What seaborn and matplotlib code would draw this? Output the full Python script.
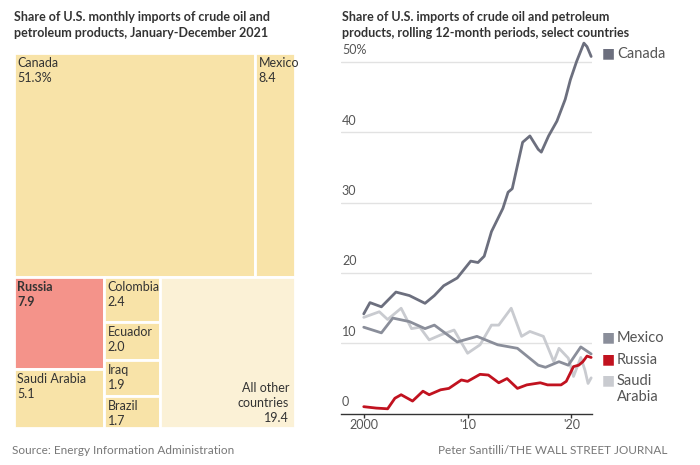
import matplotlib
matplotlib.use("Agg")
import matplotlib.pyplot as plt
import seaborn as sns
from matplotlib.patches import Rectangle

sns.set_theme(style="white")
plt.rcParams['font.family'] = ['Lato', 'DejaVu Sans']

# --- treemap data: share of 2021 imports ---
tm_countries = ['Canada', 'Mexico', 'Russia', 'Saudi Arabia', 'Colombia',
                'Ecuador', 'Iraq', 'Brazil', 'All other countries']
tm_shares = [51.3, 8.4, 7.9, 5.1, 2.4, 2.0, 1.9, 1.7, 19.4]
tm_labels = ['51.3%', '8.4', '7.9', '5.1', '2.4', '2.0', '1.9', '1.7', '19.4']
# grouping used by the layout: top row, then three columns below
tm_top_row = ['Canada', 'Mexico']
tm_bottom_cols = [['Russia', 'Saudi Arabia'],
                  ['Colombia', 'Ecuador', 'Iraq', 'Brazil'],
                  ['All other countries']]

# --- line chart data: rolling 12-month share, % ---
canada_years = [2000.0, 2000.6, 2001.7, 2003.1, 2004.4, 2005.9, 2006.8, 2007.7, 2009.0,
                2010.3, 2011.0, 2011.6, 2012.3, 2012.7, 2013.4, 2013.9, 2014.3, 2015.3,
                2016.0, 2016.8, 2017.1, 2017.8, 2018.6, 2019.4, 2019.9, 2020.5, 2021.2,
                2021.5, 2021.9]
canada_share = [14.2, 15.8, 15.2, 17.3, 16.8, 15.7, 16.8, 18.2, 19.3,
                21.7, 21.5, 22.4, 25.9, 27.1, 29.2, 31.5, 32.0, 38.6,
                39.5, 37.6, 37.2, 39.5, 41.6, 44.7, 47.5, 50.1, 52.7,
                52.2, 50.8]

mexico_years = [2000.0, 2001.7, 2002.8, 2004.4, 2005.9, 2006.8, 2009.0, 2010.9, 2012.9,
                2014.8, 2016.8, 2017.5, 2018.8, 2019.7, 2020.9, 2021.9]
mexico_share = [12.3, 11.5, 13.6, 13.1, 12.1, 12.6, 10.2, 11.0, 9.8,
                9.3, 6.9, 6.6, 7.4, 6.9, 9.5, 8.5]

russia_years = [2000.0, 2001.2, 2002.3, 2003.0, 2003.6, 2004.7, 2005.7, 2006.3, 2007.4,
                2008.2, 2009.4, 2010.0, 2011.2, 2012.0, 2013.0, 2013.8, 2014.8, 2015.7,
                2017.0, 2017.7, 2019.0, 2019.5, 2020.2, 2020.7, 2021.1, 2021.5, 2021.9]
russia_share = [1.0, 0.8, 0.7, 2.2, 2.7, 1.8, 3.2, 2.7, 3.4,
                3.6, 4.8, 4.6, 5.6, 5.5, 4.4, 5.0, 3.6, 4.1,
                4.4, 4.1, 4.1, 4.6, 6.7, 6.9, 7.4, 8.2, 8.0]

saudi_years = [2000.0, 2001.5, 2002.3, 2003.6, 2004.6, 2005.4, 2006.3, 2007.4, 2008.7,
               2010.0, 2011.2, 2012.3, 2013.0, 2014.2, 2015.2, 2016.0, 2017.3, 2018.3,
               2018.8, 2019.7, 2020.2, 2020.9, 2021.3, 2021.6, 2021.9]
saudi_share = [13.7, 14.5, 13.4, 15.0, 12.1, 12.3, 10.5, 11.2, 11.9,
               8.6, 9.8, 12.6, 12.6, 15.0, 11.0, 11.7, 11.0, 7.4,
               9.3, 7.9, 5.3, 8.0, 6.2, 4.3, 5.1]

y_ticks = [0, 10, 20, 30, 40, 50]
y_tick_labels = ['0', '10', '20', '30', '40', '50%']
x_ticks = [2000, 2010, 2020]
x_tick_labels = ['2000', "'10", "'20"]

tm_colors = {'Russia': '#f4938a', 'All other countries': '#fbf1d6'}
tm_default = '#f8e3a8'
text_dark = '#333333'

fig = plt.figure(figsize=(7, 4.65), dpi=100)

# ---------------- treemap ----------------
ax1 = fig.add_axes([0.02, 0.0796, 0.401, 0.806])
ax1.set_xlim(0, 1)
ax1.set_ylim(1, 0)
ax1.axis('off')
share = dict(zip(tm_countries, tm_shares))
label = dict(zip(tm_countries, tm_labels))
total = sum(tm_shares)


def draw_cell(name, x0, y0, w, h):
    ax1.add_patch(Rectangle((x0, y0), w, h, facecolor=tm_colors.get(name, tm_default),
                            edgecolor='white', linewidth=2))
    bold = 'bold' if name == 'Russia' else 'normal'
    if name == 'All other countries':
        ax1.annotate('All other\ncountries\n' + label[name], xy=(x0 + w, y0 + h),
                     xytext=(-4, 3), textcoords='offset points', ha='right', va='bottom',
                     fontsize=9, color=text_dark, linespacing=1.3)
    else:
        ax1.annotate(name + '\n' + label[name], xy=(x0, y0), xytext=(2.5, -3),
                     textcoords='offset points', ha='left', va='top', fontsize=9,
                     color=text_dark, fontweight=bold, linespacing=1.3)


top_sum = sum(share[c] for c in tm_top_row)
top_h = top_sum / total
x = 0
for c in tm_top_row:
    w = share[c] / top_sum
    draw_cell(c, x, 0, w, top_h)
    x += w
bottom_sum = total - top_sum
x = 0
for col in tm_bottom_cols:
    col_sum = sum(share[c] for c in col)
    w = col_sum / bottom_sum
    y = top_h
    for c in col:
        h = (1 - top_h) * share[c] / col_sum
        draw_cell(c, x, y, w, h)
        y += h
    x += w

fig.text(0.02, 0.977, 'Share of U.S. monthly imports of crude oil and\npetroleum products, January-December 2021',
         ha='left', va='top', fontsize=9, fontweight='bold', color=text_dark, linespacing=1.45)

# ---------------- line chart ----------------
ax2 = fig.add_axes([0.487, 0.1103, 0.359, 0.8166])
ax2.set_xlim(1997.8, 2022.0)
ax2.set_ylim(0, 54)
sns.lineplot(x=saudi_years, y=saudi_share, color='#c9cbd0', linewidth=2, ax=ax2)
sns.lineplot(x=mexico_years, y=mexico_share, color='#8a8e9a', linewidth=2, ax=ax2)
sns.lineplot(x=russia_years, y=russia_share, color='#c1121f', linewidth=2, ax=ax2)
sns.lineplot(x=canada_years, y=canada_share, color='#6c6f7e', linewidth=2, ax=ax2)
for line in ax2.lines:
    line.set_clip_on(False)

for yt, lab in zip(y_ticks, y_tick_labels):
    if yt > 0:
        ax2.axhline(yt, color='#e2e2e2', linewidth=1, zorder=0)
    ax2.text(1997.9, yt + 0.8, lab, ha='left', va='bottom', fontsize=9, color='#555555')
for s in ['top', 'right', 'left']:
    ax2.spines[s].set_visible(False)
ax2.spines['bottom'].set_color('#333333')
ax2.spines['bottom'].set_linewidth(1)
ax2.set_yticks([])
ax2.set_xticks(x_ticks)
ax2.set_xticklabels(x_tick_labels, fontsize=9, color='#555555')
ax2.tick_params(axis='x', length=3, width=1, color='#333333', pad=1, bottom=True)
ax2.set_xlabel('')
ax2.set_ylabel('')

fig.text(0.488, 0.977, 'Share of U.S. imports of crude oil and petroleum\nproducts, rolling 12-month periods, select countries',
         ha='left', va='top', fontsize=9, fontweight='bold', color=text_dark, linespacing=1.45)

# legend labels at the right of the lines
legend_items = [('Canada', '#6c6f7e', 53), ('Mexico', '#8a8e9a', 337),
                ('Russia', '#c1121f', 359), ('Saudi\nArabia', '#c9cbd0', 380)]
for name, col, ypix in legend_items:
    fy = 1 - ypix / 465
    fig.text(602 / 700, fy, '■', ha='left', va='center', fontsize=10, color=col,
             family='DejaVu Sans')
    fig.text(617 / 700, fy + 0.012, name, ha='left', va='top', fontsize=10.5,
             color='#555555', linespacing=1.15)

fig.text(0.017, 0.032, 'Source: Energy Information Administration', ha='left', va='center',
         fontsize=8.5, color='#777777')
fig.text(0.953, 0.032, 'Peter Santilli/THE WALL STREET JOURNAL', ha='right', va='center',
         fontsize=8.5, color='#777777')

fig.savefig('out.png', dpi=100)
